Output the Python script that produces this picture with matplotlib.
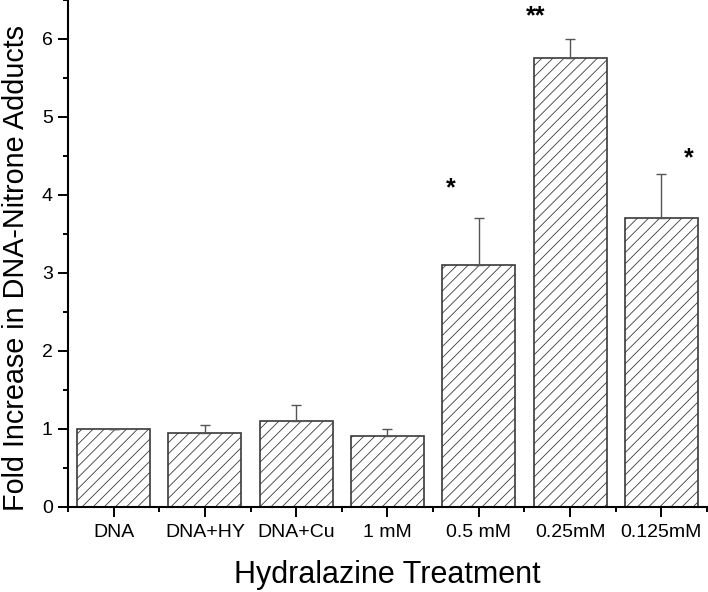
import numpy as np
import matplotlib
matplotlib.use("Agg")
import matplotlib.pyplot as plt
from matplotlib.ticker import MultipleLocator

plt.rcParams['font.family'] = ['Liberation Sans', 'DejaVu Sans']
plt.rcParams['hatch.linewidth'] = 0.6

# data
categories = ['DNA', 'DNA+HY', 'DNA+Cu', '1 mM', '0.5 mM', '0.25mM', '0.125mM']
fold_increase = [1.0, 0.955, 1.10, 0.905, 3.10, 5.76, 3.70]
upper_err = [0.0, 0.095, 0.21, 0.095, 0.60, 0.24, 0.57]

# significance marks: (label, x position in bar units, height)
star_labels = ['*', '**', '*']
star_x = [3.69, 4.62, 6.30]
star_y = [4.09, 6.29, 4.47]

fig = plt.figure(figsize=(7.08, 5.92), dpi=100)
ax = fig.add_axes([0.096, 0.1436, 0.9025, 0.8564])

x = np.arange(len(categories))
ax.bar(x, fold_increase, width=0.8, color='white', edgecolor='#3a3a3a',
       linewidth=1.2, hatch='///', zorder=2)
ax.errorbar(x, fold_increase, yerr=[np.zeros(len(x)), upper_err], fmt='none',
            ecolor='#555555', elinewidth=1.0, capsize=3.6, capthick=1.0, zorder=3)

for lab, sx, sy in zip(star_labels, star_x, star_y):
    ax.text(sx, sy, lab, ha='center', va='center', fontsize=18, fontweight='bold')

ax.set_xlim(-0.5, 6.5)
ax.set_ylim(0, 6.5)
ax.set_xticks(x)
ax.set_xticklabels(categories)
ax.xaxis.set_minor_locator(MultipleLocator(1.0, offset=0.5))
ax.yaxis.set_major_locator(MultipleLocator(1))
ax.yaxis.set_minor_locator(MultipleLocator(0.5))

for side in ['top', 'right']:
    ax.spines[side].set_visible(False)
for side in ['left', 'bottom']:
    ax.spines[side].set_linewidth(1.5)

ax.tick_params(axis='both', which='major', direction='out', length=7, width=1.4,
               labelsize=14)
ax.tick_params(axis='both', which='minor', direction='out', length=3.5, width=1.4)
ax.tick_params(axis='x', which='major', pad=5.5)
ax.tick_params(axis='y', which='major', pad=4)

ax.set_ylabel('Fold Increase in DNA-Nitrone Adducts', fontsize=20.7)
ax.set_xlabel('Hydralazine Treatment', fontsize=22)
ax.yaxis.set_label_coords(-0.060, 0.471)
ax.xaxis.set_label_coords(0.5, -0.104)

fig.savefig('out.png', dpi=100)
